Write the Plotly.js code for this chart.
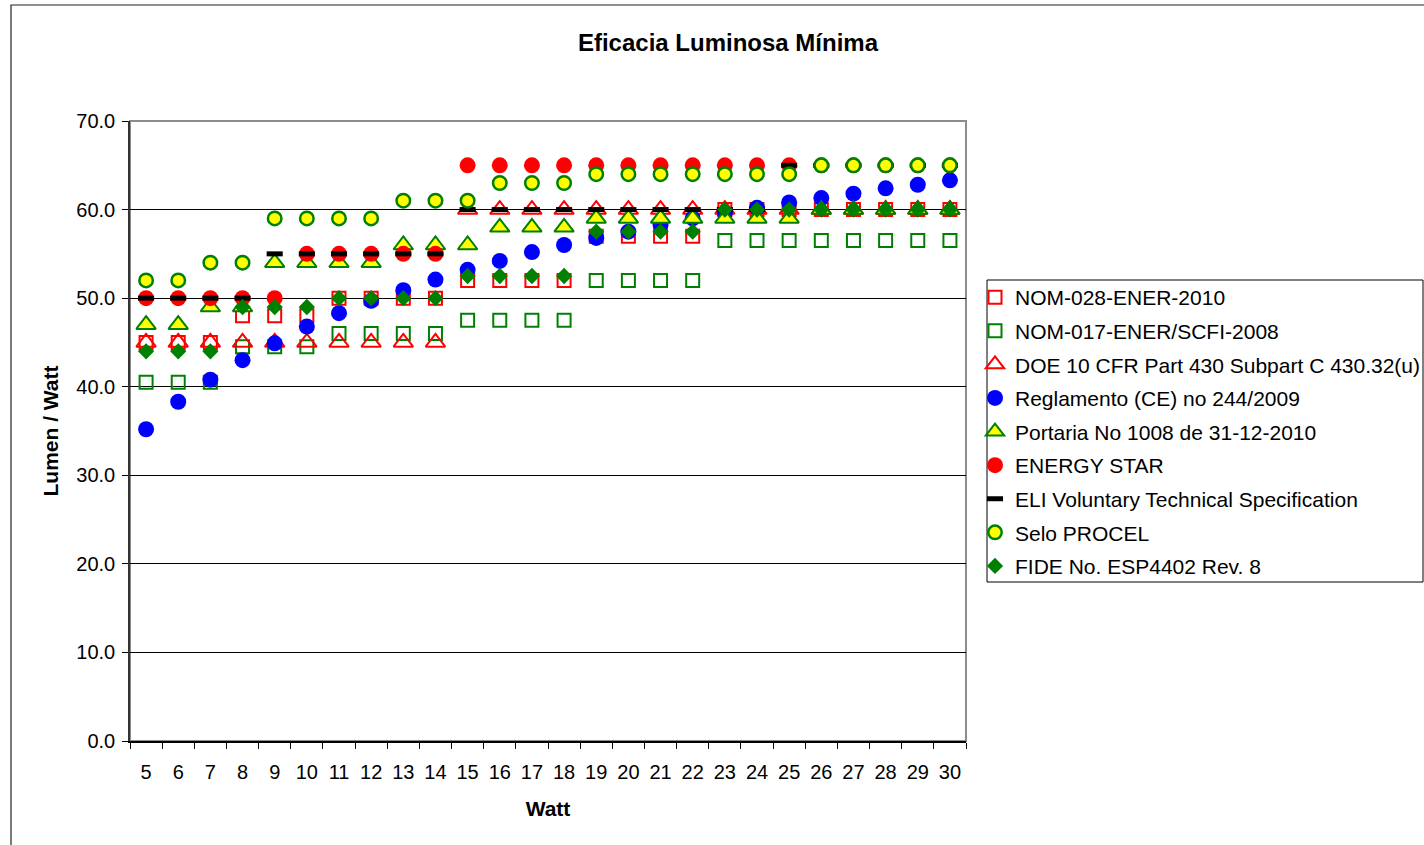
<!DOCTYPE html>
<html>
<head>
<meta charset="utf-8">
<script src="https://cdn.plot.ly/plotly-3.0.1.min.js"></script>
<style>html,body{margin:0;padding:0;background:#fff;}#chart{width:1424px;height:845px;}</style>
</head>
<body>
<div id="chart"></div>
<script>
const watts = ["5","6","7","8","9","10","11","12","13","14","15","16","17","18","19","20","21","22","23","24","25","26","27","28","29","30"];
const nom028 = [45,45,45,48,48,48,50,50,50,50,52,52,52,52,57,57,57,57,60,60,60,60,60,60,60,60];
const nom017 = [40.5,40.5,40.5,44.5,44.5,44.5,46,46,46,46,47.5,47.5,47.5,47.5,52,52,52,52,56.5,56.5,56.5,56.5,56.5,56.5,56.5,56.5];
const doe = [45,45,45,45,45,45,45,45,45,45,60,60,60,60,60,60,60,60,60,60,60,60,60,60,60,60];
const reglamento = [35.2,38.3,40.8,43.0,44.9,46.8,48.3,49.7,50.9,52.1,53.2,54.2,55.2,56.0,56.8,57.5,58.3,59.0,59.6,60.2,60.8,61.3,61.8,62.4,62.8,63.3];
const portaria = [47,47,49,49,54,54,54,54,56,56,56,58,58,58,59,59,59,59,59,59,59,60,60,60,60,60];
const energyStar = [50,50,50,50,50,55,55,55,55,55,65,65,65,65,65,65,65,65,65,65,65,65,65,65,65,65];
const eli = [50,50,50,50,55,55,55,55,55,55,60,60,60,60,60,60,60,60,60,60,65,65,65,65,65,65];
const selo = [52,52,54,54,59,59,59,59,61,61,61,63,63,63,64,64,64,64,64,64,64,65,65,65,65,65];
const fide = [44,44,44,49,49,49,50,50,50,50,52.5,52.5,52.5,52.5,57.5,57.5,57.5,57.5,60,60,60,60,60,60,60,60];

const seriesNames = [
  "NOM-028-ENER-2010",
  "NOM-017-ENER/SCFI-2008",
  "DOE 10 CFR Part 430 Subpart C 430.32(u)",
  "Reglamento (CE) no 244/2009",
  "Portaria No 1008 de 31-12-2010",
  "ENERGY STAR",
  "ELI Voluntary Technical Specification",
  "Selo PROCEL",
  "FIDE No. ESP4402 Rev. 8"
];
const seriesValues = [nom028, nom017, doe, reglamento, portaria, energyStar, eli, selo, fide];
const markers = [
  {symbol:'square-open', color:'#FF0000', size:13, line:{width:2, color:'#FF0000'}},
  {symbol:'square-open', color:'#008000', size:13, line:{width:2, color:'#008000'}},
  {symbol:'triangle-up-open', color:'#FF0000', size:17, line:{width:2, color:'#FF0000'}},
  {symbol:'circle', color:'#0000FF', size:16, line:{width:0}},
  {symbol:'triangle-up', color:'#FFFF00', size:17, line:{width:2, color:'#008000'}},
  {symbol:'circle', color:'#FF0000', size:16, line:{width:0}},
  {symbol:'line-ew', color:'#000000', size:11.5, line:{width:5, color:'#000000'}},
  {symbol:'circle', color:'#FFFF00', size:13.5, line:{width:2.5, color:'#008000'}},
  {symbol:'diamond', color:'#008000', size:12.5, line:{width:0}}
];

const traces = seriesNames.map((name, i) => ({
  type: 'scatter', mode: 'markers', name: name,
  x: watts, y: seriesValues[i], marker: markers[i],
  legendgroup: 'g' + i, cliponaxis: false, hoverinfo: 'x+y+name'
}));

const F = '"Liberation Sans", Arial, sans-serif';
const L = 130, R = 1424 - 966, T = 121, B = 845 - 741;
const PW = 1424 - L - R, PH = 845 - T - B;
const px = v => (v - L) / PW;
const py = v => (845 - B - v) / PH;

const layout = {
  width: 1424, height: 845,
  margin: {l: L, r: R, t: T, b: B, pad: 0, autoexpand: false},
  paper_bgcolor: '#fff', plot_bgcolor: '#fff',
  font: {family: F, size: 21, color: '#000'},
  title: {text: '<b>Eficacia Luminosa Mínima</b>', font: {family: F, size: 24, color: '#000'},
          x: 728/1424, xref: 'container', xanchor: 'center', y: 1 - 43/845, yref: 'container', yanchor: 'middle'},
  xaxis: {type: 'category', range: [-0.5, 25.5], tickson: 'boundaries', ticks: 'outside', ticklen: 6, tickcolor: '#000',
          showline: true, linecolor: '#000', linewidth: 1.5, showgrid: false, zeroline: false, automargin: false,
          tickfont: {family: F, size: 20}, ticklabelstandoff: 12,
          title: {text: '<b>Watt</b>', font: {family: F, size: 21}, standoff: 20}},
  yaxis: {range: [0, 70], dtick: 10, tickformat: '.1f', ticks: 'outside', ticklen: 6, tickcolor: '#000',
          showline: true, linecolor: '#333', linewidth: 1.5, showgrid: true, gridcolor: '#000', gridwidth: 1, zeroline: false, automargin: false,
          tickfont: {family: F, size: 20}, ticklabelstandoff: 3,
          title: {text: '<b>Lumen / Watt</b>', font: {family: F, size: 21}, standoff: 12}},
  showlegend: true,
  legend: {x: 975/1424, xref: 'container', y: 1 - 277/845, yref: 'container', xanchor: 'left', yanchor: 'top',
           bgcolor: 'rgba(0,0,0,0)', borderwidth: 0,
           font: {family: F, size: 21, color: '#000'}, traceorder: 'grouped', tracegroupgap: 3.3, itemclick: false},
  shapes: [
    {type: 'rect', xref: 'paper', yref: 'paper', x0: 0, x1: 1, y0: 0, y1: 1, line: {color: '#8c8c8c', width: 2}, layer: 'below'},
    {type: 'rect', xref: 'paper', yref: 'paper', x0: px(987), x1: px(1423), y0: py(582), y1: py(280), line: {color: '#000', width: 1}, fillcolor: 'rgba(0,0,0,0)'},
    {type: 'rect', xref: 'paper', yref: 'paper', x0: px(11), x1: px(1600), y0: py(1000), y1: py(5), line: {color: '#222', width: 1.2}, fillcolor: 'rgba(0,0,0,0)'}
  ]
};

Plotly.newPlot('chart', traces, layout, {displayModeBar: false});
</script>
</body>
</html>
